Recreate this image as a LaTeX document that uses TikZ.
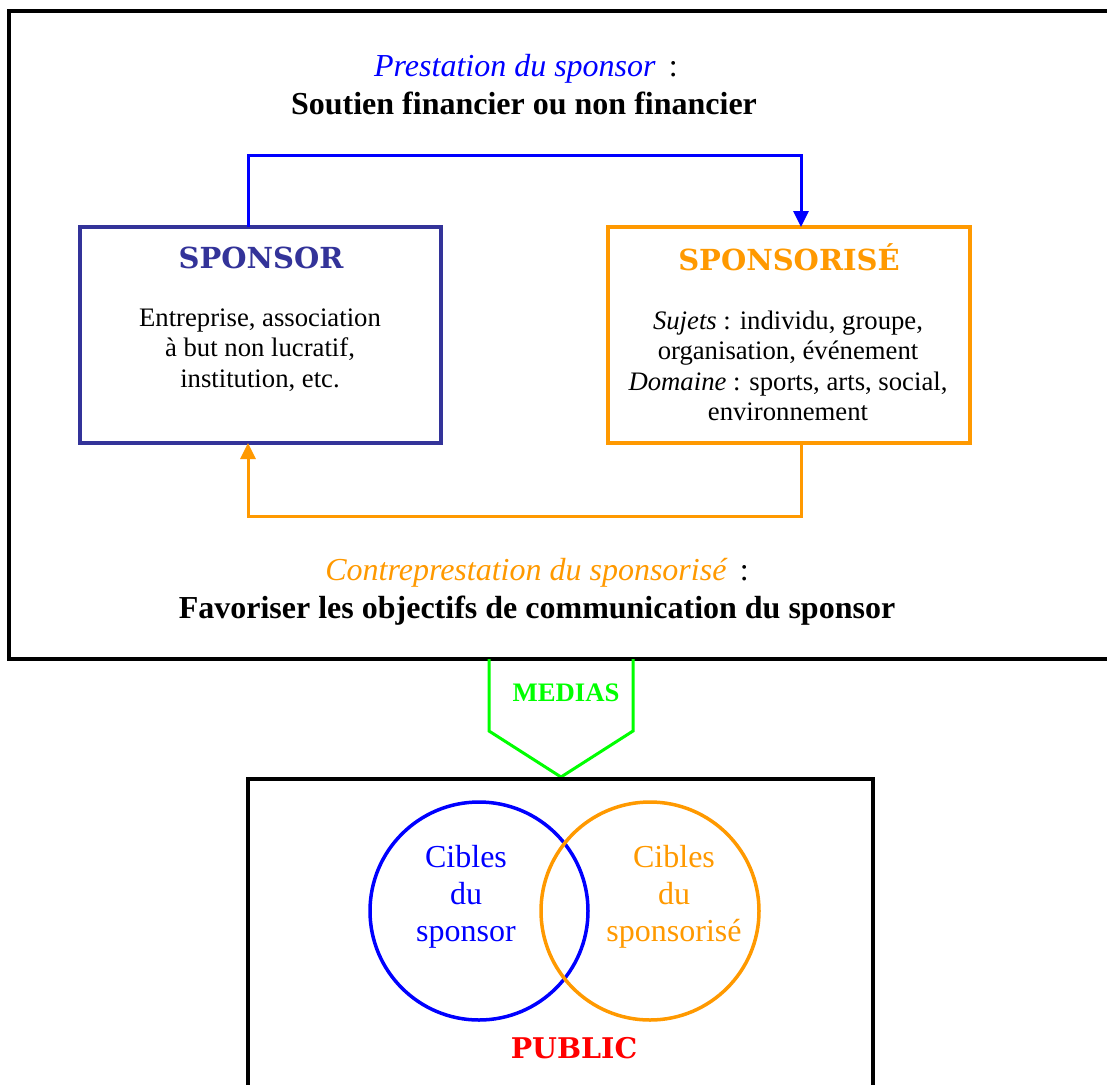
\documentclass[tikz,border=0pt]{standalone}
\usepackage{fontspec}
\setmainfont{Liberation Serif}
\newfontfamily\wideserif{DejaVu Serif}
\usetikzlibrary{arrows.meta}
\definecolor{sblue}{HTML}{0000FF}
\definecolor{sviolet}{HTML}{333399}
\definecolor{sorange}{HTML}{FF9900}
\definecolor{sgreen}{HTML}{00FF00}
\definecolor{sred}{HTML}{FF0000}
\begin{document}
\begin{tikzpicture}[x=1pt,y=-1pt,
  frame/.style={draw=black,line width=4pt},
  box/.style={draw,line width=3.5pt,inner sep=0pt,outer sep=0pt},
  title/.style={font=\fontsize{32}{37}\selectfont,anchor=base,inner sep=0pt},
  boxtitle/.style={font=\fontsize{29}{33}\wideserif\bfseries,inner sep=0pt},
  body/.style={font=\fontsize{26.7}{30.5}\selectfont,align=center,inner sep=0pt},
  cible/.style={font=\fontsize{32}{37}\selectfont,align=center,inner sep=0pt},
  ring/.style={circle,draw,line width=3.5pt,minimum size=218pt,inner sep=0pt,outer sep=0pt},
  link/.style={line width=3pt},
  tip/.style={-{Triangle[width=15pt,length=16pt]}}
]
\useasboundingbox (0,0) rectangle (1107,1084);
% outer frame
\draw[frame] (9,11) rectangle (1130,659);
% titles
\node[title] (t1) at (526,76) {\textcolor{sblue}{\itshape Prestation du sponsor} \,:};
\node[title,font=\fontsize{32}{37}\selectfont\bfseries] (t2) at (524,114) {Soutien financier ou non financier};
\node[title] (t3) at (537,580) {\textcolor{sorange}{\itshape Contreprestation du sponsorisé} \,:};
\node[title,font=\fontsize{32}{37}\selectfont\bfseries] (t4) at (537,618) {Favoriser les objectifs de communication du sponsor};
% boxes
\node[box,draw=sviolet,minimum width=361pt,minimum height=216pt] (spon) at (260.5,335) {};
\node[box,draw=sorange,minimum width=362pt,minimum height=216pt] (sponsd) at (789,335) {};
\node[boxtitle,text=sviolet] (spontitle) at (261,258) {SPONSOR};
\node[boxtitle,text=sorange] (sponsdtitle) at (789,257) {SPONSORISÉ};
\node[body] (sponbody) at (260,350) {Entreprise, association\\à but non lucratif,\\institution, etc.};
\node[body] (sponsdbody) at (788,366) {\textit{Sujets} : individu, groupe,\\organisation, événement\\\textit{Domaine} : sports, arts, social,\\environnement};
% connectors
\draw[link,sblue,tip] ([xshift=-12.5pt]spon.north) -- ++(0,-72) -| ([xshift=12pt]sponsd.north);
\draw[link,sorange,tip] ([xshift=12pt]sponsd.south) -- ++(0,73) -| ([xshift=-12.5pt]spon.south);
% medias
\draw[sgreen,line width=3pt] (489,659) -- (489,731) -- (561,777) -- (633,731) -- (633,659);
\node[font=\fontsize{26.7}{30}\selectfont\bfseries,text=sgreen] (medias) at (566,693) {MEDIAS};
% public
\draw[frame] (248,779) rectangle (873,1110);
\node[ring,draw=sblue] (cs) at (479,911) {};
\node[ring,draw=sorange] (co) at (650,911) {};
\node[cible,text=sblue] (cstext) at (466,897) {Cibles\\du\\sponsor};
\node[cible,text=sorange] (cotext) at (674,897) {Cibles\\du\\sponsorisé};
\node[font=\fontsize{28.5}{32}\wideserif\bfseries,text=sred] (public) at (574,1048) {PUBLIC};
\end{tikzpicture}
\end{document}
